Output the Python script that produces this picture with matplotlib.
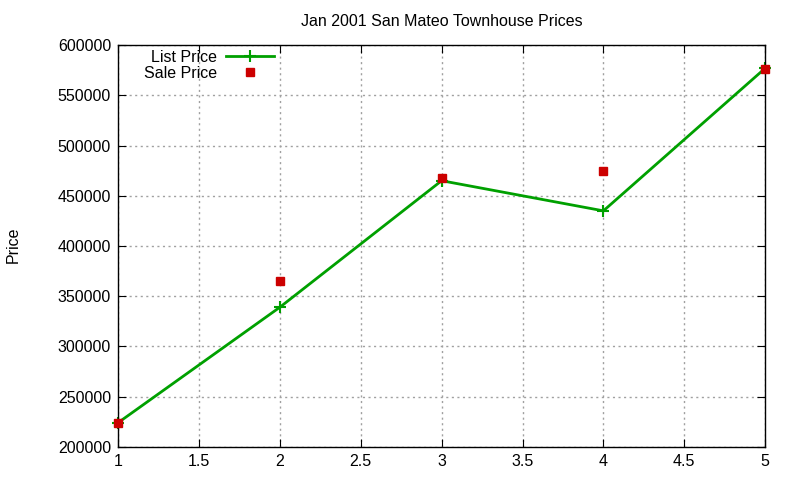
import numpy as np
import matplotlib.pyplot as plt

plt.rcParams['font.family'] = ['Liberation Sans', 'DejaVu Sans']

# ---- data ----
months = [1, 2, 3, 4, 5]
list_price = [224000, 339000, 465000, 435000, 577000]
sale_price = [224000, 365000, 468000, 475000, 576000]

green = "#00a000"
red = "#cc0000"
fs = 11.5

fig = plt.figure(figsize=(8, 4.8), dpi=100)
ax = fig.add_axes([0.1475, 0.069, 0.809, 0.837])

ax.plot(months, list_price, color=green, linewidth=2, marker="+",
        markersize=8, markeredgewidth=1.5, label="List Price", clip_on=False)
ax.plot(months, sale_price, color=red, linestyle="none", marker="s",
        markersize=6, label="Sale Price", clip_on=False, zorder=3)

ax.set_xlim(1, 5)
ax.set_ylim(200000, 600000)
ax.set_xticks(np.arange(1, 5.01, 0.5))
ax.set_xticklabels(["1", "1.5", "2", "2.5", "3", "3.5", "4", "4.5", "5"])
ax.set_yticks(np.arange(200000, 600001, 50000))
ax.set_yticklabels([str(v) for v in range(200000, 600001, 50000)])

ax.grid(True, color="#a0a0a0", linestyle=(0, (1.5, 2.5)), linewidth=1)
ax.tick_params(direction="in", top=True, right=True, length=6,
               labelsize=fs, pad=5, colors="black")
for s in ax.spines.values():
    s.set_linewidth(1)

ax.set_title("Jan 2001 San Mateo Townhouse Prices", fontsize=fs, pad=14)
fig.text(0.016, 0.49, "Price", rotation=90, fontsize=fs, va="center", ha="center")

ax.legend(loc="upper left", bbox_to_anchor=(0.02, 1.02), frameon=False,
          markerfirst=False, fontsize=fs, handlelength=3.0,
          labelspacing=0.05, handletextpad=0.6, borderpad=0.3)

plt.savefig("out.png", dpi=100)
